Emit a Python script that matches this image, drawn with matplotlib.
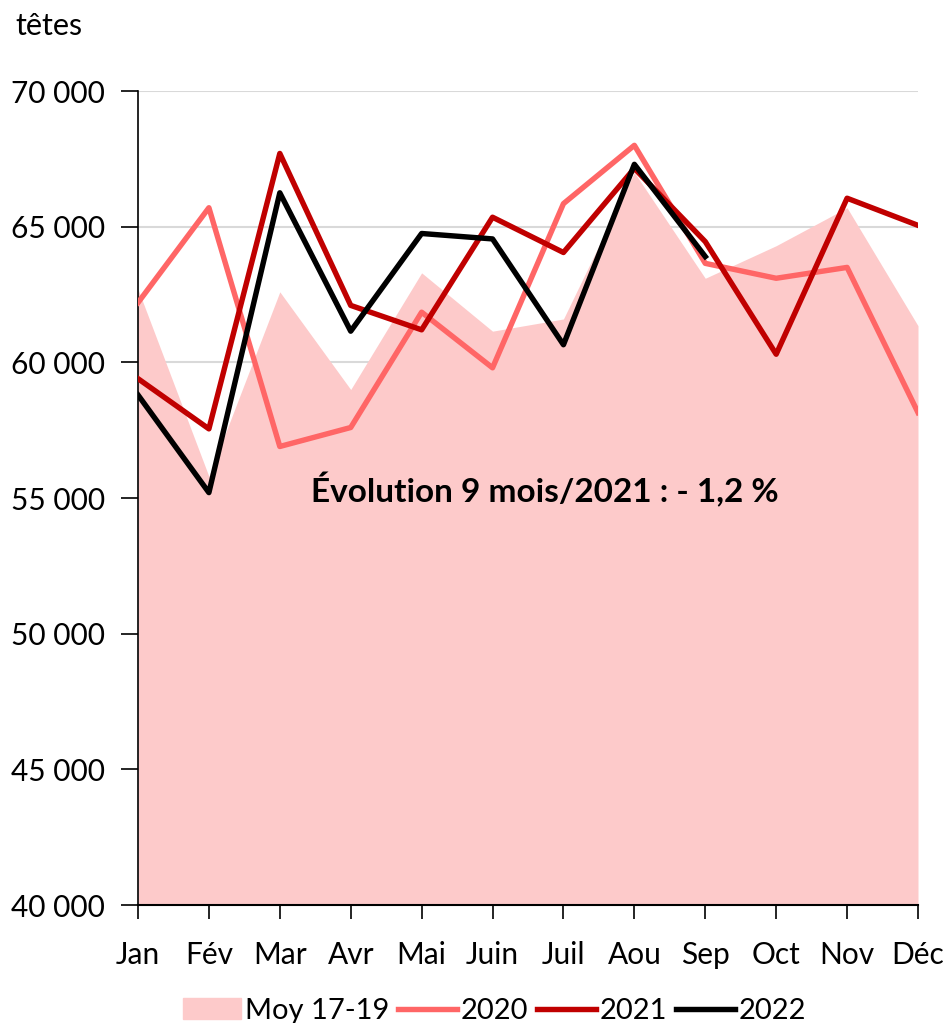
import matplotlib.pyplot as plt
from matplotlib.patches import Patch
from matplotlib.lines import Line2D
import numpy as np

plt.rcParams['font.family'] = ['Lato', 'DejaVu Sans']

mois = ['Jan', 'Fév', 'Mar', 'Avr', 'Mai', 'Juin', 'Juil', 'Aou', 'Sep', 'Oct', 'Nov', 'Déc']
moy_17_19 = [62700, 55800, 62600, 59000, 63300, 61150, 61600, 67000, 63100, 64300, 65700, 61350]
v2020 = [62200, 65700, 56900, 57600, 61850, 59800, 65850, 68000, 63650, 63100, 63500, 58150]
v2021 = [59400, 57550, 67700, 62100, 61200, 65350, 64050, 67150, 64450, 60300, 66050, 65050]
v2022 = [58800, 55200, 66250, 61150, 64750, 64550, 60650, 67300, 63900]

C_FILL = '#fdcaca'
C_2020 = '#ff6666'
C_2021 = '#c00000'
C_2022 = '#000000'
LW = 3.9

fig = plt.figure(figsize=(9.51, 10.23), dpi=100)
ax = fig.add_axes([0.1451, 0.1153, 0.8202, 0.7957])

x = np.arange(len(mois))
ax.fill_between(x, 40000, moy_17_19, color=C_FILL, linewidth=0, zorder=1)
ax.plot(x, v2020, color=C_2020, lw=LW, zorder=3)
ax.plot(x, v2021, color=C_2021, lw=LW, zorder=4)
ax.plot(np.arange(len(v2022)), v2022, color=C_2022, lw=LW, zorder=5)

ax.set_xlim(0, 11)
ax.set_ylim(40000, 70000)
yt = np.arange(40000, 70001, 5000)
ax.set_yticks(yt)
ax.set_yticklabels([f'{v:,}'.replace(',', ' ') for v in yt])
ax.set_xticks(x)
ax.set_xticklabels(mois)
ax.grid(axis='y', color='#d9d9d9', lw=1.5, zorder=0)
ax.set_axisbelow(True)

for s in ['top', 'right']:
    ax.spines[s].set_visible(False)
ax.spines['left'].set_linewidth(1.2)
ax.spines['bottom'].set_linewidth(1.5)
ax.tick_params(axis='y', length=12, width=1.2, labelsize=21.5, pad=12)
ax.tick_params(axis='x', length=10, width=1.2, labelsize=21.5, pad=16)

ax.text(5.74, 55300, 'Évolution 9 mois/2021 : - 1,2 %', ha='center', va='center',
        fontsize=24, fontweight='bold', zorder=6)
fig.text(0.016, 0.975, 'têtes', fontsize=22, ha='left', va='center')

handles = [Patch(color=C_FILL, label='Moy 17-19'),
           Line2D([], [], color=C_2020, lw=LW, label='2020'),
           Line2D([], [], color=C_2021, lw=LW, label='2021'),
           Line2D([], [], color=C_2022, lw=LW, label='2022')]
fig.legend(handles=handles, loc='center', bbox_to_anchor=(0.52, 0.012), ncol=4,
           frameon=False, fontsize=21, handlelength=2.0, handletextpad=0.15,
           columnspacing=0.3)

fig.savefig('out.png', dpi=100)
